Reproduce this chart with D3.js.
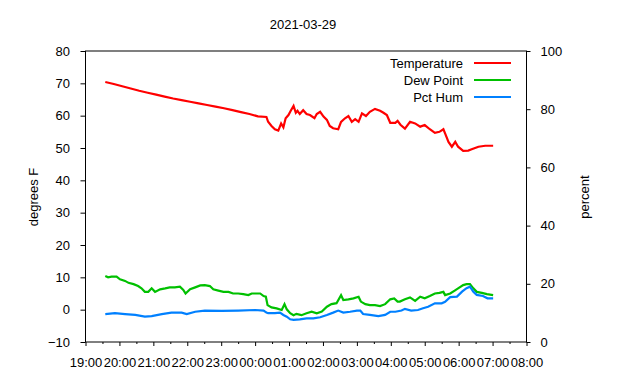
<!DOCTYPE html>
<html>
<head>
<meta charset="utf-8">
<script src="https://cdn.jsdelivr.net/npm/d3@7"></script>
<style>
  body { margin: 0; background: #fff; }
  text { font-family: 'Liberation Sans', Arial, sans-serif; }
</style>
</head>
<body>
<script>
// Readings for the night of 2021-03-28/29, [time, value]
const temperature = [
  ['19:35', 70.4], ['19:50', 69.8], ['20:05', 69.1], ['20:20', 68.4], ['20:35', 67.7],
  ['20:50', 67.1], ['21:05', 66.5], ['21:20', 65.9], ['21:35', 65.3], ['21:50', 64.8],
  ['22:05', 64.3], ['22:20', 63.8], ['22:35', 63.3], ['22:50', 62.8], ['23:05', 62.3],
  ['23:20', 61.7], ['23:35', 61.1], ['23:50', 60.5], ['00:05', 59.8], ['00:20', 59.6],
  ['00:23', 58.1], ['00:29', 56.8], ['00:35', 55.8], ['00:41', 55.4], ['00:46', 57.6],
  ['00:50', 56.4], ['00:54', 59.2], ['00:59', 60.2], ['01:03', 61.5], ['01:08', 63.0],
  ['01:12', 60.9], ['01:15', 61.5], ['01:19', 60.5], ['01:25', 61.7], ['01:31', 60.5],
  ['01:37', 60.2], ['01:45', 59.2], ['01:49', 60.5], ['01:55', 61.2], ['02:01', 59.7],
  ['02:07', 58.7], ['02:12', 56.8], ['02:18', 56.1], ['02:27', 55.8], ['02:32', 58.1],
  ['02:39', 59.2], ['02:45', 59.9], ['02:51', 58.1], ['02:57', 58.9], ['03:03', 58.1],
  ['03:09', 60.7], ['03:16', 59.9], ['03:23', 61.2], ['03:32', 62.1], ['03:41', 61.5],
  ['03:47', 60.9], ['03:53', 60.2], ['03:59', 57.8], ['04:08', 57.8], ['04:12', 58.4],
  ['04:17', 57.2], ['04:25', 56.0], ['04:34', 58.1], ['04:43', 57.6], ['04:52', 56.6],
  ['05:00', 57.1], ['05:09', 55.8], ['05:18', 54.7], ['05:26', 55.0], ['05:33', 55.8],
  ['05:36', 54.5], ['05:42', 51.9], ['05:48', 50.4], ['05:54', 51.9], ['05:59', 50.4],
  ['06:08', 49.1], ['06:17', 49.2], ['06:23', 49.6], ['06:35', 50.4], ['06:47', 50.7],
  ['07:01', 50.7],
]

const dewPoint = [
  ['19:35', 10.4], ['19:40', 10.0], ['19:46', 10.2], ['19:55', 10.2], ['20:01', 9.4],
  ['20:10', 8.9], ['20:16', 8.3], ['20:25', 7.9], ['20:33', 7.3], ['20:39', 6.6],
  ['20:45', 5.5], ['20:51', 5.5], ['20:57', 6.6], ['21:03', 5.5], ['21:12', 6.3],
  ['21:21', 6.6], ['21:29', 6.9], ['21:38', 6.9], ['21:47', 7.1], ['21:53', 6.1],
  ['21:57', 5.0], ['22:05', 6.3], ['22:14', 6.9], ['22:23', 7.5], ['22:31', 7.6],
  ['22:40', 7.3], ['22:46', 6.3], ['22:55', 5.9], ['23:04', 5.5], ['23:13', 5.5],
  ['23:21', 5.0], ['23:30', 5.0], ['23:39', 4.8], ['23:48', 4.5], ['23:54', 5.0],
  ['00:03', 5.0], ['00:09', 5.0], ['00:15', 4.2], ['00:19', 4.0], ['00:22', 1.4],
  ['00:29', 0.7], ['00:38', 0.4], ['00:47', -0.1], ['00:52', 1.7], ['00:56', 0.1],
  ['01:02', -1.1], ['01:08', -1.7], ['01:13', -1.3], ['01:22', -1.7], ['01:31', -1.1],
  ['01:40', -0.6], ['01:49', -1.1], ['01:58', -0.6], ['02:07', 0.9], ['02:15', 1.7],
  ['02:24', 2.0], ['02:32', 4.5], ['02:36', 3.0], ['02:45', 3.2], ['02:54', 3.5],
  ['03:03', 4.0], ['03:07', 2.5], ['03:15', 1.7], ['03:23', 1.4], ['03:32', 1.4],
  ['03:41', 1.1], ['03:50', 1.7], ['03:59', 3.2], ['04:06', 3.5], ['04:12', 2.5],
  ['04:16', 2.5], ['04:25', 3.2], ['04:34', 3.8], ['04:43', 2.7], ['04:52', 4.0],
  ['05:00', 3.5], ['05:09', 4.2], ['05:18', 5.0], ['05:26', 5.2], ['05:33', 5.5],
  ['05:36', 4.5], ['05:45', 5.0], ['05:53', 5.9], ['05:59', 6.6], ['06:08', 7.6],
  ['06:14', 7.9], ['06:20', 7.9], ['06:26', 6.6], ['06:32', 5.5], ['06:41', 5.2],
  ['06:50', 4.8], ['07:01', 4.5],
]

const pctHum = [
  ['19:35', 9.6], ['19:52', 9.9], ['20:10', 9.6], ['20:28', 9.3], ['20:45', 8.7],
  ['20:57', 8.9], ['21:15', 9.6], ['21:32', 10.1], ['21:50', 10.1], ['21:59', 9.6],
  ['22:14', 10.4], ['22:31', 10.8], ['23:01', 10.7], ['23:30', 10.8], ['00:00', 11.0],
  ['00:15', 10.8], ['00:20', 10.1], ['00:23', 9.9], ['00:35', 9.9], ['00:44', 10.1],
  ['00:50', 9.3], ['00:56', 8.7], ['01:02', 7.8], ['01:08', 7.6], ['01:19', 7.8],
  ['01:31', 8.1], ['01:43', 8.1], ['01:55', 8.5], ['02:07', 9.3], ['02:18', 10.1],
  ['02:27', 10.8], ['02:36', 10.1], ['02:48', 10.4], ['03:00', 10.8], ['03:06', 10.8],
  ['03:11', 9.6], ['03:23', 9.3], ['03:38', 8.9], ['03:50', 9.3], ['03:59', 10.4],
  ['04:08', 10.4], ['04:19', 10.8], ['04:25', 11.4], ['04:36', 10.8], ['04:48', 11.0],
  ['04:57', 11.6], ['05:06', 12.1], ['05:18', 13.3], ['05:30', 13.3], ['05:36', 13.8],
  ['05:45', 15.4], ['05:57', 15.6], ['06:06', 17.3], ['06:14', 18.5], ['06:20', 19.0],
  ['06:26', 17.3], ['06:32', 16.2], ['06:43', 15.8], ['06:51', 15.0], ['07:01', 15.0],
]

const legendLabels = ['Temperature', 'Dew Point', 'Pct Hum']
const leftTicks = [-10, 0, 10, 20, 30, 40, 50, 60, 70, 80]
const rightTicks = [0, 20, 40, 60, 80, 100]

const width = 640
const height = 380
const margin = { top: 51, right: 113.5, bottom: 38, left: 85.5 }
const colors = { temp: '#ff0000', dew: '#00c000', hum: '#0080ff' }
const fontSize = '13px'

// evening hours belong to the 28th, morning to the 29th
function toDate(s) {
  const [h, m] = s.split(':').map(Number)
  return new Date(2021, 2, h >= 12 ? 28 : 29, h, m)
}

const svg = d3.select('body').append('svg')
  .attr('width', width)
  .attr('height', height)

svg.append('rect').attr('width', width).attr('height', height).attr('fill', '#fff')

const x = d3.scaleTime()
  .domain([toDate('19:00'), toDate('08:00')])
  .range([margin.left, width - margin.right])

const yLeft = d3.scaleLinear()
  .domain([-10, 80])
  .range([height - margin.bottom, margin.top])

const yRight = d3.scaleLinear()
  .domain([0, 100])
  .range([height - margin.bottom, margin.top])

const bottom = height - margin.bottom
const right = width - margin.right

// X axis: hourly labels plus half-hour minor ticks
const xMajor = svg.append('g')
  .attr('transform', `translate(0, ${bottom})`)
  .call(d3.axisBottom(x)
    .ticks(d3.timeHour.every(1))
    .tickFormat(d3.timeFormat('%H:%M'))
    .tickSize(4)
    .tickPadding(11.8))

const halfHours = d3.timeMinute.range(toDate('19:00'), toDate('08:00'), 30)
  .filter(d => d.getMinutes() === 30)

const xMinor = svg.append('g')
  .attr('transform', `translate(0, ${bottom})`)
  .call(d3.axisBottom(x).tickValues(halfHours).tickFormat('').tickSize(2))

const yAxisLeft = svg.append('g')
  .attr('transform', `translate(${margin.left}, 0)`)
  .call(d3.axisLeft(yLeft).tickValues(leftTicks).tickSize(5).tickPadding(10.5))

const yAxisRight = svg.append('g')
  .attr('transform', `translate(${right}, 0)`)
  .call(d3.axisRight(yRight).tickValues(rightTicks).tickSize(4).tickPadding(10))

;[xMajor, xMinor, yAxisLeft, yAxisRight].forEach(g => {
  g.select('.domain').remove()
  g.selectAll('line').attr('stroke', '#000')
  g.selectAll('text')
    .style('font-size', fontSize)
    .attr('fill', '#000')
})

// Plot border
svg.append('rect')
  .attr('x', margin.left)
  .attr('y', margin.top)
  .attr('width', right - margin.left)
  .attr('height', bottom - margin.top)
  .attr('fill', 'none')
  .attr('stroke', '#000')
  .attr('stroke-width', 1)

// Series
const leftLine = d3.line()
  .x(d => x(toDate(d[0])))
  .y(d => yLeft(d[1]))

const rightLine = d3.line()
  .x(d => x(toDate(d[0])))
  .y(d => yRight(d[1]))

svg.append('path')
  .datum(temperature)
  .attr('d', leftLine)
  .attr('fill', 'none')
  .attr('stroke', colors.temp)
  .attr('stroke-width', 2.2)

svg.append('path')
  .datum(dewPoint)
  .attr('d', leftLine)
  .attr('fill', 'none')
  .attr('stroke', colors.dew)
  .attr('stroke-width', 2.2)

svg.append('path')
  .datum(pctHum)
  .attr('d', rightLine)
  .attr('fill', 'none')
  .attr('stroke', colors.hum)
  .attr('stroke-width', 2.2)

// Title and axis labels
svg.append('text')
  .attr('x', 303)
  .attr('y', 29)
  .attr('text-anchor', 'middle')
  .style('font-size', fontSize)
  .text('2021-03-29')

svg.append('text')
  .attr('transform', 'translate(38, 197) rotate(-90)')
  .attr('text-anchor', 'middle')
  .style('font-size', fontSize)
  .text('degrees F')

svg.append('text')
  .attr('transform', 'translate(589, 197) rotate(-90)')
  .attr('text-anchor', 'middle')
  .style('font-size', fontSize)
  .text('percent')

// Legend
const legendColors = [colors.temp, colors.dew, colors.hum]
legendLabels.forEach((label, i) => {
  const ly = 63 + i * 17
  svg.append('text')
    .attr('x', 463)
    .attr('y', ly + 4.5)
    .attr('text-anchor', 'end')
    .style('font-size', fontSize)
    .text(label)
  svg.append('line')
    .attr('x1', 474).attr('x2', 511)
    .attr('y1', ly).attr('y2', ly)
    .attr('stroke', legendColors[i])
    .attr('stroke-width', 2)
})
</script>
</body>
</html>
